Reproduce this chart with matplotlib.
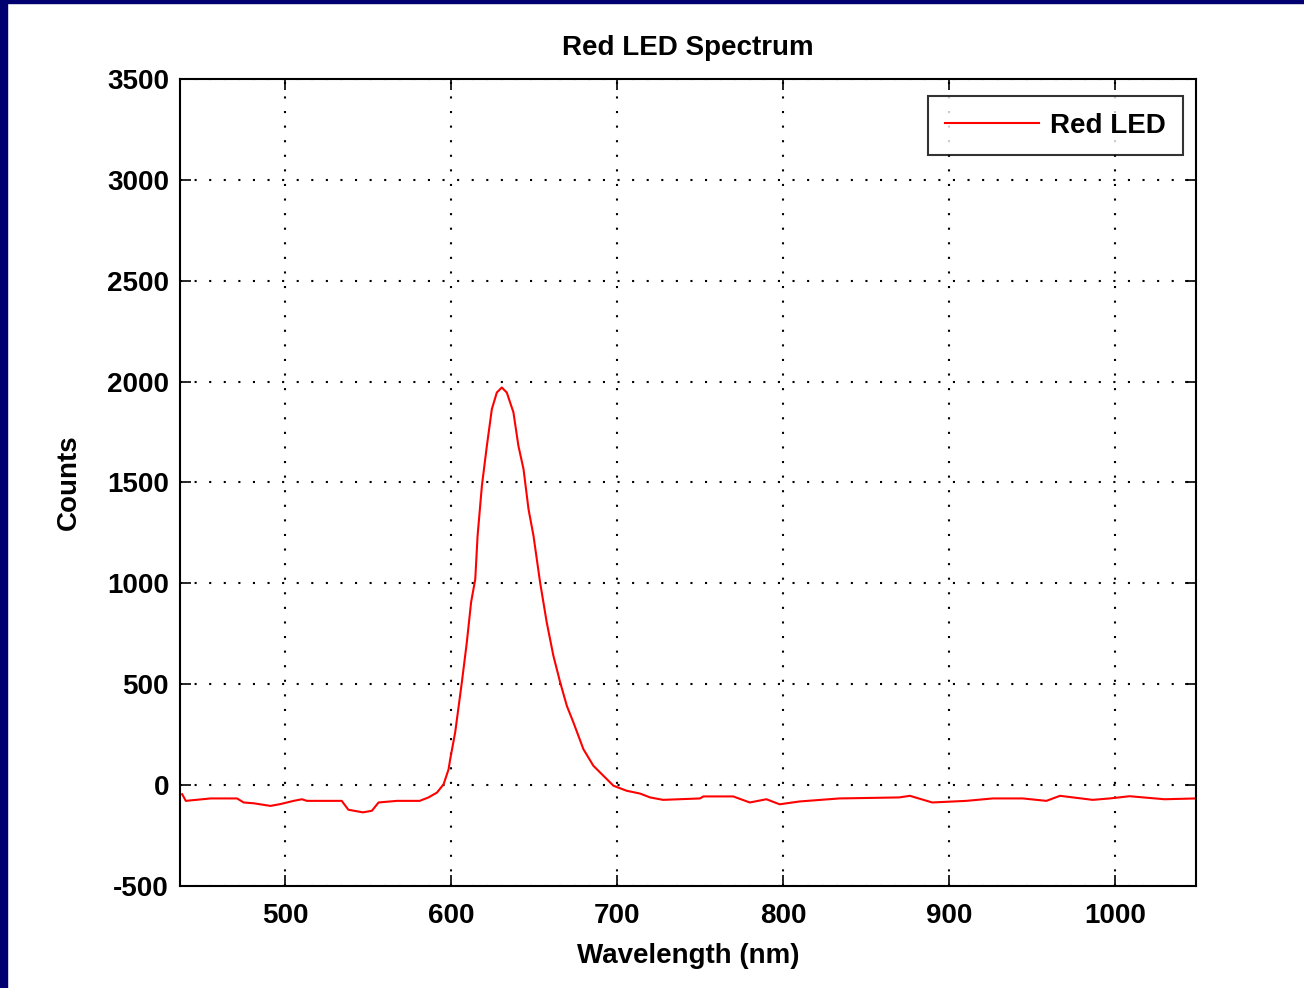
import matplotlib.pyplot as plt
import matplotlib.patches as mpatches

# spectrum (wavelength nm, counts)
wavelength = [437.8, 440, 455, 470.9, 474.9, 480.9, 491, 497, 505, 510, 513, 534, 538, 546.8,
              552.2, 556.2, 567.3, 581, 586.3, 591.4, 595.4, 598.4, 599.4, 602.4, 606.4,
              609.4, 612, 614.5, 615.9, 618.5, 621.5, 624.5, 627.5, 630.5, 633.5, 637.5,
              640.5, 643.6, 646.6, 649.6, 653.6, 657.6, 661.6, 665.7, 669.7, 673.7, 679.7,
              685.7, 691.8, 697.8, 705.8, 713.9, 719.9, 727.7, 750, 752, 770, 780, 790,
              798, 810, 834, 870, 876.5, 890, 910.5, 926.5, 944.6, 958.8, 967, 986.7,
              997, 1009, 1030, 1049]
counts = [-45, -78, -66, -66, -86, -90, -103, -94, -78, -70, -78, -78, -122, -135,
          -127, -86, -78, -78, -61, -37, 4, 78, 129, 262, 509,
          707, 907, 1021, 1236, 1484, 1682, 1864, 1946, 1971, 1946, 1848,
          1682, 1566, 1368, 1236, 1004, 806, 641, 509, 393, 310, 178,
          96, 46, -3, -28, -42, -61, -73, -66, -56, -56, -86, -70,
          -95, -81, -66, -61, -53, -86, -78, -66, -66, -78, -53, -73,
          -66, -55, -70, -66]

xticks = [500, 600, 700, 800, 900, 1000]
yticks = [-500, 0, 500, 1000, 1500, 2000, 2500, 3000, 3500]

plt.rcParams['font.family'] = ['Liberation Sans', 'DejaVu Sans']
plt.rcParams['font.weight'] = 'bold'
plt.rcParams['axes.unicode_minus'] = False

fig = plt.figure(figsize=(13.04, 9.88), dpi=100)
fig.patch.set_facecolor('white')

# navy frame strips on left and top
fig.patches.append(mpatches.Rectangle((0, 0), 7 / 1304, 1, transform=fig.transFigure,
                                       color='#000070', zorder=0))
fig.patches.append(mpatches.Rectangle((0, 985 / 988), 1, 3 / 988, transform=fig.transFigure,
                                       color='#000070', zorder=0))

ax = fig.add_axes([180 / 1304, 102 / 988, 1016 / 1304, 807 / 988])
ax.plot(wavelength, counts, color='red', linewidth=1.5, label='Red LED')

ax.set_xlim(436.5, 1049)
ax.set_ylim(-500, 3500)
ax.set_xticks(xticks)
ax.set_yticks(yticks)
ax.tick_params(direction='in', length=8, width=1.2, top=True, right=True,
               labelsize=20, pad=8)
ax.tick_params(axis='x', pad=12)
for lab in ax.get_xticklabels() + ax.get_yticklabels():
    lab.set_fontweight('bold')
for s in ax.spines.values():
    s.set_linewidth(1.5)

ax.grid(True, color='black', linestyle=(0, (1, 6)), linewidth=1.5)

ax.set_title('Red LED Spectrum', fontsize=20, fontweight='bold', pad=17)
ax.set_xlabel('Wavelength (nm)', fontsize=20, fontweight='bold', labelpad=10)
ax.set_ylabel('Counts', fontsize=20, fontweight='bold', labelpad=18)

leg = ax.legend(loc='upper right', bbox_to_anchor=(0.987, 0.979), fontsize=20,
                frameon=True, fancybox=False, handlelength=3.4, borderpad=0.6,
                borderaxespad=0, handletextpad=0.4)
leg.get_frame().set_edgecolor('black')
leg.get_frame().set_linewidth(1.5)

fig.savefig('out.png', dpi=100)
